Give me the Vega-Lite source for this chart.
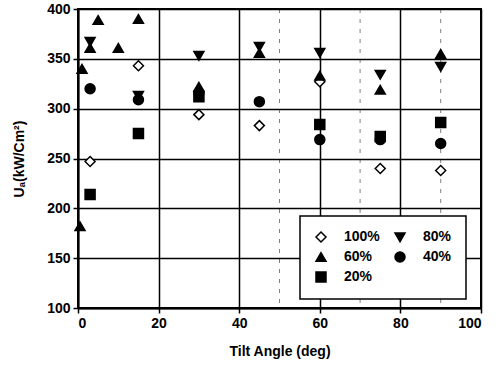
{
  "$schema": "https://vega.github.io/schema/vega-lite/v6.json",
  "width": 403,
  "height": 299,
  "autosize": {"type": "none"},
  "padding": {"left": 78, "top": 9, "right": 21, "bottom": 59},
  "background": "white",
  "config": {
    "view": {"stroke": "black", "strokeWidth": 2},
    "font": "Liberation Sans",
    "axis": {
      "domainColor": "black", "domainWidth": 2,
      "tickColor": "black", "tickWidth": 1.5,
      "gridColor": "black", "gridWidth": 1.5, "gridOpacity": 1,
      "labelColor": "black", "labelFontSize": 14, "labelFontWeight": "bold", "labelFont": "Liberation Sans",
      "titleColor": "black", "titleFontSize": 14, "titleFontWeight": "bold", "titleFont": "Liberation Sans"
    },
    "legend": {
      "orient": "none", "legendX": 222, "legendY": 207, "columns": 2,
      "strokeColor": "black", "strokeWidth": 1.5, "fillColor": "white",
      "padding": 14, "columnPadding": 12, "rowPadding": 4,
      "labelFontSize": 14, "labelFontWeight": "bold", "labelColor": "black", "labelFont": "Liberation Sans",
      "symbolSize": 100, "symbolStrokeWidth": 1.5, "labelOffset": 16
    }
  },
  "datasets": {
    "pts": [
      {"series": "100%", "angle": 3, "u": 247},
      {"series": "100%", "angle": 15, "u": 343},
      {"series": "100%", "angle": 30, "u": 294},
      {"series": "100%", "angle": 45, "u": 283},
      {"series": "100%", "angle": 60, "u": 327},
      {"series": "100%", "angle": 75, "u": 240},
      {"series": "100%", "angle": 90, "u": 238},
      {"series": "80%", "angle": 3, "u": 367},
      {"series": "80%", "angle": 15, "u": 313},
      {"series": "80%", "angle": 30, "u": 353},
      {"series": "80%", "angle": 45, "u": 362},
      {"series": "80%", "angle": 60, "u": 356},
      {"series": "80%", "angle": 75, "u": 334},
      {"series": "80%", "angle": 90, "u": 342},
      {"series": "60%", "angle": 0.5, "u": 182},
      {"series": "60%", "angle": 1, "u": 340},
      {"series": "60%", "angle": 3, "u": 361},
      {"series": "60%", "angle": 5, "u": 389},
      {"series": "60%", "angle": 10, "u": 361},
      {"series": "60%", "angle": 15, "u": 390},
      {"series": "60%", "angle": 30, "u": 322},
      {"series": "60%", "angle": 45, "u": 356},
      {"series": "60%", "angle": 60, "u": 333},
      {"series": "60%", "angle": 75, "u": 319},
      {"series": "60%", "angle": 90, "u": 355},
      {"series": "40%", "angle": 3, "u": 320},
      {"series": "40%", "angle": 15, "u": 309},
      {"series": "40%", "angle": 30, "u": 316},
      {"series": "40%", "angle": 45, "u": 307},
      {"series": "40%", "angle": 60, "u": 269},
      {"series": "40%", "angle": 75, "u": 269},
      {"series": "40%", "angle": 90, "u": 265},
      {"series": "20%", "angle": 3, "u": 214},
      {"series": "20%", "angle": 15, "u": 275},
      {"series": "20%", "angle": 30, "u": 312},
      {"series": "20%", "angle": 60, "u": 284},
      {"series": "20%", "angle": 75, "u": 272},
      {"series": "20%", "angle": 90, "u": 286}
    ],
    "minor": [{"angle": 50}, {"angle": 70}, {"angle": 90}]
  },
  "layer": [
    {
      "data": {"name": "minor"},
      "mark": {"type": "rule", "color": "black", "strokeDash": [4, 6], "strokeWidth": 1, "opacity": 0.5},
      "encoding": {"x": {"field": "angle", "type": "quantitative"}}
    },
    {
      "data": {"name": "pts"},
      "mark": {"type": "point", "filled": true, "size": 100, "strokeWidth": 1.5, "opacity": 1},
      "encoding": {
        "x": {
          "field": "angle", "type": "quantitative",
          "scale": {"domain": [0, 100], "nice": false},
          "axis": {"values": [0, 20, 40, 60, 80, 100], "title": "Tilt Angle (deg)", "tickSize": 5, "labelPadding": 3, "titlePadding": 14, "grid": true}
        },
        "y": {
          "field": "u", "type": "quantitative",
          "scale": {"domain": [100, 400], "nice": false},
          "axis": {"values": [100, 150, 200, 250, 300, 350, 400], "title": "Uₐ(kW/Cm²)", "tickSize": 5, "labelPadding": 3, "titlePadding": 20, "grid": true}
        },
        "shape": {
          "field": "series", "type": "nominal",
          "scale": {"domain": ["100%", "80%", "60%", "40%", "20%"], "range": ["diamond", "triangle-down", "triangle-up", "circle", "square"]},
          "legend": {"title": null, "values": ["100%", "60%", "20%", "80%", "40%"]}
        },
        "fill": {
          "field": "series", "type": "nominal",
          "scale": {"domain": ["100%", "80%", "60%", "40%", "20%"], "range": ["white", "black", "black", "black", "black"]},
          "legend": {"title": null, "values": ["100%", "60%", "20%", "80%", "40%"]}
        },
        "stroke": {
          "field": "series", "type": "nominal",
          "scale": {"domain": ["100%", "80%", "60%", "40%", "20%"], "range": ["black", "black", "black", "black", "black"]},
          "legend": {"title": null, "values": ["100%", "60%", "20%", "80%", "40%"]}
        }
      }
    }
  ]
}
